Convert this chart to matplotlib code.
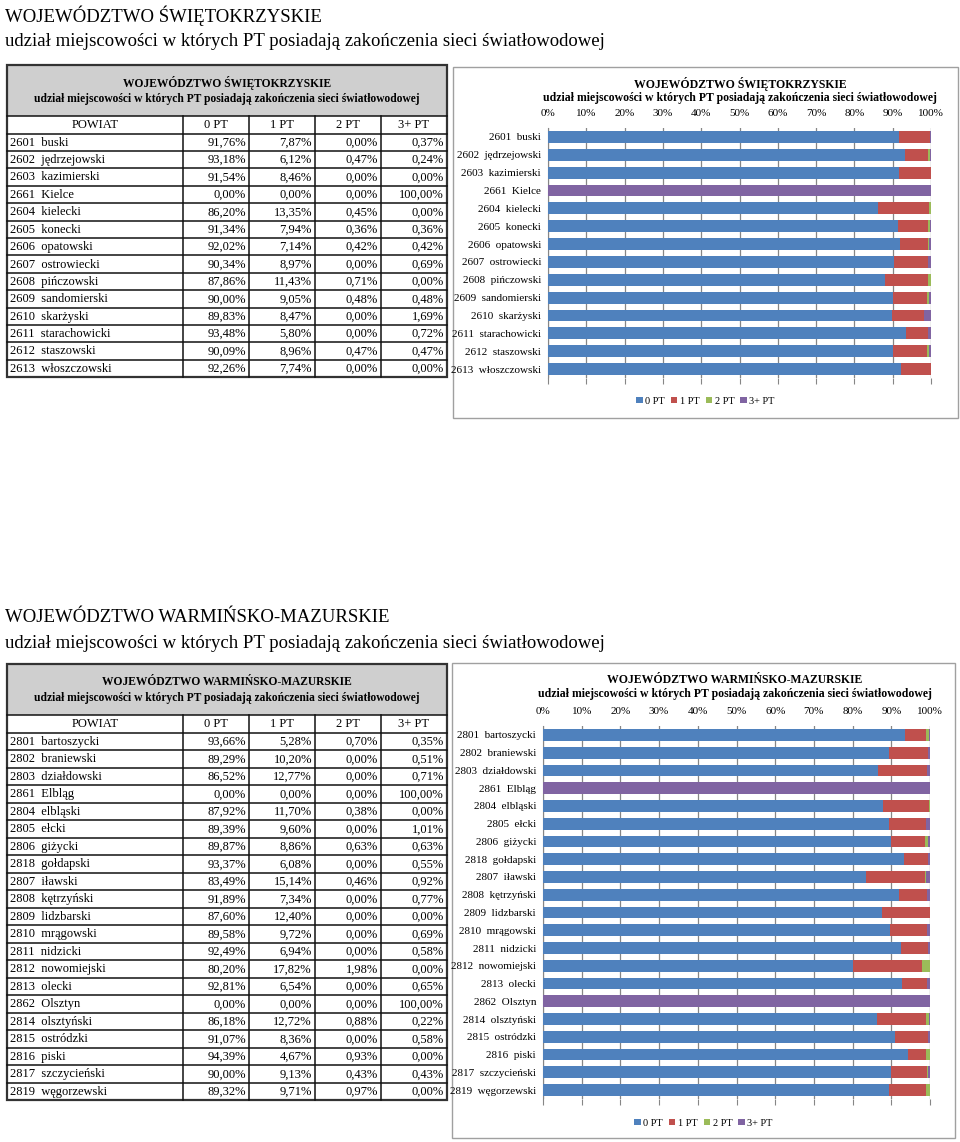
import numpy as np
import matplotlib
matplotlib.use("Agg")
import matplotlib.pyplot as plt
from matplotlib.patches import Rectangle

plt.rcParams['font.family'] = ['Liberation Serif', 'DejaVu Serif']

# --- data: województwo świętokrzyskie ---
sw_title = "WOJEWÓDZTWO ŚWIĘTOKRZYSKIE"
sw_powiat = ["2601  buski", "2602  jędrzejowski", "2603  kazimierski", "2661  Kielce",
             "2604  kielecki", "2605  konecki", "2606  opatowski", "2607  ostrowiecki",
             "2608  pińczowski", "2609  sandomierski", "2610  skarżyski",
             "2611  starachowicki", "2612  staszowski", "2613  włoszczowski"]
sw_0pt = [91.76, 93.18, 91.54, 0.00, 86.20, 91.34, 92.02, 90.34, 87.86, 90.00, 89.83, 93.48, 90.09, 92.26]
sw_1pt = [7.87, 6.12, 8.46, 0.00, 13.35, 7.94, 7.14, 8.97, 11.43, 9.05, 8.47, 5.80, 8.96, 7.74]
sw_2pt = [0.00, 0.47, 0.00, 0.00, 0.45, 0.36, 0.42, 0.00, 0.71, 0.48, 0.00, 0.00, 0.47, 0.00]
sw_3pt = [0.37, 0.24, 0.00, 100.00, 0.00, 0.36, 0.42, 0.69, 0.00, 0.48, 1.69, 0.72, 0.47, 0.00]

# --- data: województwo warmińsko-mazurskie ---
wm_title = "WOJEWÓDZTWO WARMIŃSKO-MAZURSKIE"
wm_powiat = ["2801  bartoszycki", "2802  braniewski", "2803  działdowski", "2861  Elbląg",
             "2804  elbląski", "2805  ełcki", "2806  giżycki", "2818  gołdapski",
             "2807  iławski", "2808  kętrzyński", "2809  lidzbarski", "2810  mrągowski",
             "2811  nidzicki", "2812  nowomiejski", "2813  olecki", "2862  Olsztyn",
             "2814  olsztyński", "2815  ostródzki", "2816  piski", "2817  szczycieński",
             "2819  węgorzewski"]
wm_0pt = [93.66, 89.29, 86.52, 0.00, 87.92, 89.39, 89.87, 93.37, 83.49, 91.89, 87.60,
          89.58, 92.49, 80.20, 92.81, 0.00, 86.18, 91.07, 94.39, 90.00, 89.32]
wm_1pt = [5.28, 10.20, 12.77, 0.00, 11.70, 9.60, 8.86, 6.08, 15.14, 7.34, 12.40,
          9.72, 6.94, 17.82, 6.54, 0.00, 12.72, 8.36, 4.67, 9.13, 9.71]
wm_2pt = [0.70, 0.00, 0.00, 0.00, 0.38, 0.00, 0.63, 0.00, 0.46, 0.00, 0.00,
          0.00, 0.00, 1.98, 0.00, 0.00, 0.88, 0.00, 0.93, 0.43, 0.97]
wm_3pt = [0.35, 0.51, 0.71, 100.00, 0.00, 1.01, 0.63, 0.55, 0.92, 0.77, 0.00,
          0.69, 0.58, 0.00, 0.65, 100.00, 0.22, 0.58, 0.00, 0.43, 0.00]

subtitle = "udział miejscowości w których PT posiadają zakończenia sieci światłowodowej"
columns = ["POWIAT", "0 PT", "1 PT", "2 PT", "3+ PT"]
colors = ['#4F81BD', '#C0504D', '#9BBB59', '#8064A2']

W, H = 960, 1142
fig = plt.figure(figsize=(W / 100, H / 100), dpi=100)
fig.patch.set_facecolor('white')

bg = fig.add_axes([0, 0, 1, 1])
bg.set_xlim(0, W)
bg.set_ylim(H, 0)
bg.axis('off')
bg.set_zorder(0)


def frac(x0, y0, x1, y1):
    return [x0 / W, 1 - y1 / H, (x1 - x0) / W, (y1 - y0) / H]


def pct(v):
    return f"{v:.2f}%".replace('.', ',')


def draw_table(top, title, names, series, row_h):
    edges = [7, 183, 249, 315, 381, 447]
    gray_bot = top + 51
    head_bot = gray_bot + 17.5
    bottom = head_bot + len(names) * row_h
    bg.add_patch(Rectangle((edges[0], top), edges[-1] - edges[0], gray_bot - top,
                           facecolor='#CFCFCF', edgecolor='none'))
    cx = (edges[0] + edges[-1]) / 2
    bg.text(cx, top + 18, title, ha='center', va='center', fontsize=8.3, fontweight='bold')
    bg.text(cx, top + 34, subtitle, ha='center', va='center', fontsize=8.3, fontweight='bold')
    # horizontal lines
    ys = [gray_bot, head_bot] + [head_bot + (i + 1) * row_h for i in range(len(names) - 1)]
    for y in ys:
        bg.plot([edges[0], edges[-1]], [y, y], color='#111111', lw=1.1)
    for x in edges[1:-1]:
        bg.plot([x, x], [gray_bot, bottom], color='#111111', lw=1.1)
    bg.add_patch(Rectangle((edges[0], top), edges[-1] - edges[0], bottom - top,
                           facecolor='none', edgecolor='#333333', lw=1.6))
    # header row
    for j, col in enumerate(columns):
        bg.text((edges[j] + edges[j + 1]) / 2, (gray_bot + head_bot) / 2 + 0.5, col,
                ha='center', va='center', fontsize=9)
    for i, name in enumerate(names):
        yc = head_bot + (i + 0.5) * row_h + 0.5
        bg.text(edges[0] + 3, yc, name, ha='left', va='center', fontsize=9)
        for j, s in enumerate(series):
            bg.text(edges[j + 2] - 3, yc, pct(s[i]), ha='right', va='center', fontsize=9)


def draw_chart(frame, plot, title, names, series, title_y, legend_y):
    fx0, fy0, fx1, fy1 = frame
    bg.add_patch(Rectangle((fx0, fy0), fx1 - fx0, fy1 - fy0, facecolor='white',
                           edgecolor='#A0A0A0', lw=1.0))
    ax = fig.add_axes(frac(*plot))
    ax.set_zorder(2)
    y = np.arange(len(names))
    left = np.zeros(len(names))
    handles = []
    for s, c, lab in zip(series, colors, columns[1:]):
        vals = np.array(s) / 100.0
        h = ax.barh(y, vals, left=left, height=0.66, color=c, label=lab, zorder=3)
        handles.append(h)
        left += vals
    ax.set_xlim(0, 1)
    ax.set_ylim(len(names) - 0.5, -0.5)
    ax.set_xticks(np.arange(0, 1.01, 0.1))
    ax.set_xticklabels([f"{int(round(t * 100))}%" for t in np.arange(0, 1.01, 0.1)], fontsize=8)
    ax.xaxis.tick_top()
    ax.tick_params(axis='x', which='both', top=False, bottom=True, labeltop=True,
                   labelbottom=False, length=4, color='#868686', pad=3)
    ax.set_yticks(y)
    ax.set_yticklabels(names, fontsize=8)
    ax.tick_params(axis='y', length=0, pad=5)
    ax.grid(axis='x', color='#868686', lw=0.9, zorder=0)
    for sp in ['top', 'right', 'bottom']:
        ax.spines[sp].set_visible(False)
    ax.spines['left'].set_color('#868686')
    ax.set_facecolor('white')
    cx = plot[0] + 192
    fig.text(cx / W, 1 - title_y / H, title, ha='center', va='center',
             fontsize=8.5, fontweight='bold')
    fig.text(cx / W, 1 - (title_y + 14) / H, subtitle, ha='center', va='center',
             fontsize=8.5, fontweight='bold')
    fig.legend(handles=handles, loc='center', ncol=4, frameon=False, fontsize=7.5,
               bbox_to_anchor=((fx0 + fx1) / 2 / W, 1 - legend_y / H),
               bbox_transform=fig.transFigure, handlelength=0.6, handleheight=0.6,
               handletextpad=0.25, columnspacing=0.6)


# headings
fig.text(5 / W, 1 - 16 / H, sw_title, ha='left', va='center', fontsize=13.5)
fig.text(5 / W, 1 - 42 / H, subtitle, ha='left', va='center', fontsize=13.5)
fig.text(5 / W, 1 - 618 / H, wm_title, ha='left', va='center', fontsize=13.5)
fig.text(5 / W, 1 - 643 / H, subtitle, ha='left', va='center', fontsize=13.5)

draw_table(65, sw_title, sw_powiat, [sw_0pt, sw_1pt, sw_2pt, sw_3pt], 17.4)
draw_table(664, wm_title, wm_powiat, [wm_0pt, wm_1pt, wm_2pt, wm_3pt], 17.5)

draw_chart((453, 67, 958, 418), (548, 128, 931, 378), sw_title, sw_powiat,
           [sw_0pt, sw_1pt, sw_2pt, sw_3pt], 84, 401)
draw_chart((452, 663, 955, 1138), (543, 726, 930, 1099), wm_title, wm_powiat,
           [wm_0pt, wm_1pt, wm_2pt, wm_3pt], 680, 1123)

fig.savefig("out.png", dpi=100, facecolor='white')
